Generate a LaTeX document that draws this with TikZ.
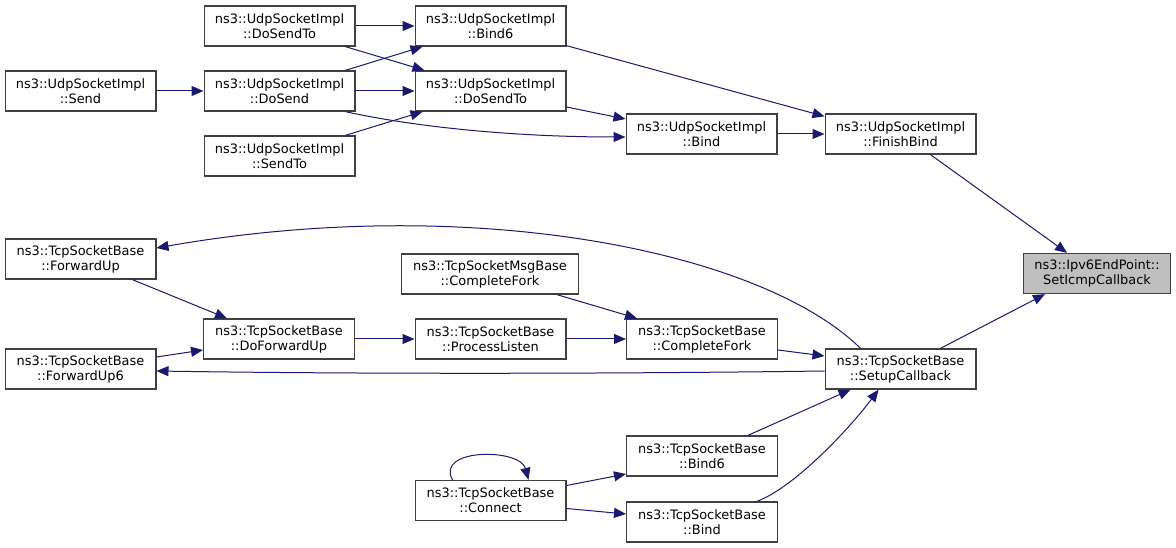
\documentclass[tikz,border=0pt]{standalone}
\usepackage{fontspec}
\setmainfont{DejaVu Sans}
\usetikzlibrary{arrows.meta,calc}
\definecolor{edgecol}{HTML}{191970}
\definecolor{bordercol}{HTML}{404040}
\definecolor{hilite}{HTML}{BFBFBF}
\begin{document}
\begin{tikzpicture}[x=0.75pt,y=-0.75pt,
  fn/.style={draw=bordercol,line width=1pt,fill=white,align=center,inner sep=0pt,
    minimum width=113pt,minimum height=30pt,font=\fontsize{9.7}{11.25}\selectfont},
  e/.style={draw=edgecol,line width=0.75pt,-{Triangle[length=9pt,width=7.5pt]},fill=none}]
\useasboundingbox (0,0) rectangle (1176,548);
% Udp part
\node[fn] (udsto1) at (279.5,26) {ns3::UdpSocketImpl\\::DoSendTo};
\node[fn] (usend) at (80.5,91) {ns3::UdpSocketImpl\\::Send};
\node[fn] (udsend) at (279.5,91) {ns3::UdpSocketImpl\\::DoSend};
\node[fn] (usendto) at (279.5,156) {ns3::UdpSocketImpl\\::SendTo};
\node[fn] (ubind6) at (490.5,26) {ns3::UdpSocketImpl\\::Bind6};
\node[fn] (udsto2) at (490.5,91) {ns3::UdpSocketImpl\\::DoSendTo};
\node[fn] (ubind) at (701.5,134) {ns3::UdpSocketImpl\\::Bind};
\node[fn] (finish) at (900.5,134) {ns3::UdpSocketImpl\\::FinishBind};
\node[fn,fill=hilite,minimum width=110.25pt] (ipv6) at (1097,273.5) {ns3::Ipv6EndPoint::\\SetIcmpCallback};
% Tcp part
\node[fn] (tfwd) at (80.5,259) {ns3::TcpSocketBase\\::ForwardUp};
\node[fn] (tdofwd) at (279,339) {ns3::TcpSocketBase\\::DoForwardUp};
\node[fn] (tfwd6) at (80.5,369) {ns3::TcpSocketBase\\::ForwardUp6};
\node[fn,minimum width=132.75pt] (tmsgcf) at (490,274) {ns3::TcpSocketMsgBase\\::CompleteFork};
\node[fn] (tproc) at (490.5,339) {ns3::TcpSocketBase\\::ProcessListen};
\node[fn] (tcf) at (702,339) {ns3::TcpSocketBase\\::CompleteFork};
\node[fn] (setup) at (900.5,369) {ns3::TcpSocketBase\\::SetupCallback};
\node[fn] (tbind6) at (702,456) {ns3::TcpSocketBase\\::Bind6};
\node[fn] (tconn) at (490.5,500.5) {ns3::TcpSocketBase\\::Connect};
\node[fn] (tbind) at (702,522) {ns3::TcpSocketBase\\::Bind};
% Udp edges
\draw[e] (udsto1.east) -- (ubind6.west);
\draw[e] ($(udsto1.south east)+(-10,0)$) -- ($(udsto2.north west)+(10,0)$);
\draw[e] ($(udsend.north east)+(-10,0)$) -- ($(ubind6.south west)+(8,0)$);
\draw[e] (usend) -- (udsend);
\draw[e] (udsend) -- (udsto2);
\draw[e] ($(udsend.south east)+(-10,0)$) .. controls (420,128) and (520,137) .. ($(ubind.west)+(0,3)$);
\draw[e] ($(usendto.north east)+(-10,0)$) -- ($(udsto2.south west)+(8,0)$);
\draw[e] ($(ubind6.south east)+(0,-1)$) -- ($(finish.north west)+(0,3)$);
\draw[e] ($(udsto2.east)+(0,16)$) -- ($(ubind.west)+(0,-15)$);
\draw[e] (ubind) -- (finish);
\draw[e] ($(finish.south)+(30,0)$) -- ($(ipv6.north)+(-30,0)$);
% Tcp edges
\draw[e] ($(setup.north)+(40,0)$) -- ($(ipv6.south)+(-52,0)$);
\draw[e] ($(setup.north)+(-40,0)$) .. controls (760,250) and (470,193) .. ($(tfwd.east)+(0,-11)$);
\draw[e] ($(setup.west)+(0,2)$) .. controls (600,374) and (350,374) .. ($(tfwd6.east)+(0,2)$);
\draw[e] ($(tfwd.south)+(52,0)$) -- ($(tdofwd.north)+(-52,0)$);
\draw[e] ($(tfwd6.east)+(0,-12)$) -- ($(tdofwd.west)+(0,11)$);
\draw[e] (tdofwd) -- (tproc);
\draw[e] (tproc) -- (tcf);
\draw[e] ($(tmsgcf.south)+(67,0)$) -- ($(tcf.north)+(-65,0)$);
\draw[e] ($(tcf.east)+(0,11)$) -- ($(setup.west)+(0,-13)$);
\draw[e] ($(tbind6.north)+(46,0)$) -- ($(setup.south)+(-50,0)$);
\draw[e] ($(tbind.north)+(55,0)$) .. controls (795,487) and (850,428) .. ($(setup.south)+(-22,0)$);
\draw[e] ($(tconn.north)+(-38,0)$) .. controls (435,448) and (520,448) .. ($(tconn.north)+(38,0)$);
\draw[e] ($(tconn.east)+(0,-15)$) -- ($(tbind6.west)+(0,18)$);
\draw[e] ($(tconn.east)+(0,8)$) -- ($(tbind.west)+(0,-8)$);
\end{tikzpicture}
\end{document}
